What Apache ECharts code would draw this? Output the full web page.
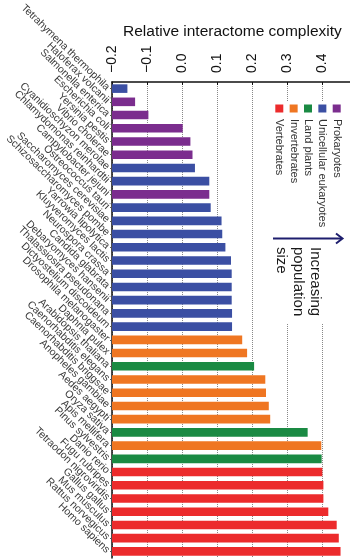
<!DOCTYPE html>
<html>
<head>
<meta charset="utf-8">
<script src="https://cdn.jsdelivr.net/npm/echarts@6/dist/echarts.min.js"></script>
<style>
  html, body { margin: 0; padding: 0; background: #fff; }
  #chart { width: 350px; height: 560px; }
</style>
</head>
<body>
<div id="chart"></div>
<script>
// species, top to bottom
var species = [
  'Tetrahymena thermophila', 'Haloferax volcanii', 'Salmonella enterica', 'Escherichia coli',
  'Yersinia pestis', 'Vibrio cholerae', 'Cyanidioschyzon merolae', 'Chlamydomonas reinhardtii',
  'Campylobacter jejuni', 'Ostreococcus tauri', 'Saccharomyces cerevisiae', 'Schizosaccharomyces pombe',
  'Yarrowia lipolytica', 'Kluyveromyces lactis', 'Neurospora crassa', 'Candida glabrata',
  'Debaryomyces hansenii', 'Thalassiosira pseudonana', 'Dictyostelium discoideum', 'Drosophila melanogaster',
  'Daphnia pulex', 'Arabidopsis thaliana', 'Caenorhabditis elegans', 'Caenorhabditis briggsae',
  'Anopheles gambiae', 'Aedes aegypti', 'Oryza sativa', 'Apis mellifera',
  'Pinus sylvestris', 'Danio rerio', 'Fugu rubripes', 'Tetraodon nigroviridis',
  'Gallus gallus', 'Mus musculus', 'Rattus norvegicus', 'Homo sapiens'
];
var complexity = [
  -0.156, -0.134, -0.096, 0.002, 0.024, 0.030, 0.037, 0.078, 0.078, 0.082,
  0.113, 0.115, 0.124, 0.140, 0.142, 0.142, 0.142, 0.143, 0.143, 0.172,
  0.186, 0.206, 0.238, 0.240, 0.248, 0.252, 0.359, 0.398, 0.399, 0.401,
  0.404, 0.404, 0.418, 0.442, 0.448, 0.453
];
// group of each species: P prokaryote, U unicellular euk, L land plant, I invertebrate, V vertebrate
var groupOf = [
  'U', 'P', 'P', 'P', 'P', 'P', 'U', 'U', 'P', 'U',
  'U', 'U', 'U', 'U', 'U', 'U', 'U', 'U', 'U', 'I',
  'I', 'L', 'I', 'I', 'I', 'I', 'L', 'I', 'L', 'V',
  'V', 'V', 'V', 'V', 'V', 'V'
];
var groupKeys = ['P', 'U', 'L', 'I', 'V'];
var groupNames = ['Prokaryotes', 'Unicellular eukaryotes', 'Land plants', 'Invertebrates', 'Vertebrates'];
var groupColors = { P: '#7b2d8e', U: '#3b4fa3', L: '#1a8a43', I: '#ef7622', V: '#ec2b2c' };
var xTicks = [-0.2, -0.1, 0.0, 0.1, 0.2, 0.3, 0.4];
var BASE = xTicks[0]; // bars grow from the left end of the axis

var FONT = '"Liberation Sans", Arial, sans-serif';
var chart = echarts.init(document.getElementById('chart'));

var barData = complexity.map(function (v, i) {
  return { value: v - BASE, itemStyle: { color: groupColors[groupOf[i]] } };
});

var graphics = [
  // white panel behind legend / annotation
  { type: 'rect', z: 1, shape: { x: 271, y: 102, width: 79, height: 222 }, style: { fill: '#fff' } }
];
groupKeys.forEach(function (k, i) {
  var cx = 336.7 - i * 14.35;
  graphics.push({ type: 'rect', z: 3, shape: { x: cx - 4, y: 104.5, width: 8, height: 8 }, style: { fill: groupColors[k] } });
  graphics.push({
    type: 'text', z: 3, x: cx, y: 119, rotation: -Math.PI / 2,
    style: { text: groupNames[i], x: 0, y: 0, align: 'left', verticalAlign: 'middle', font: '11px ' + FONT, fill: '#333' }
  });
});
graphics.push({ type: 'line', z: 3, shape: { x1: 273, y1: 238.5, x2: 342, y2: 238.5 }, style: { stroke: '#1e1e6e', lineWidth: 2 } });
graphics.push({ type: 'polyline', z: 3, shape: { points: [[336, 233.5], [342.5, 238.5], [336, 243.5]] }, style: { stroke: '#1e1e6e', lineWidth: 2, fill: null } });
graphics.push({
  type: 'text', z: 3, x: 324, y: 247, rotation: -Math.PI / 2,
  style: { text: 'Increasing\npopulation\nsize', x: 0, y: 0, align: 'left', verticalAlign: 'top', font: '15px ' + FONT, lineHeight: 17, fill: '#1a1a1a' }
});

chart.setOption({
  animation: false,
  backgroundColor: '#fff',
  title: {
    text: 'Relative interactome complexity',
    left: 118, top: 19,
    textStyle: { fontSize: 15.5, fontWeight: 'normal', color: '#111', fontFamily: FONT }
  },
  grid: { left: 112, right: 0, top: 82, bottom: 2 },
  xAxis: {
    type: 'value',
    position: 'top',
    min: 0,
    max: 0.68,
    interval: 0.1,
    axisLine: { show: true, lineStyle: { color: '#111', width: 1.5 } },
    axisTick: { show: true, inside: true, length: 3, lineStyle: { color: '#111' } },
    splitLine: { show: true, lineStyle: { color: '#888', type: 'dotted', width: 1 } },
    axisLabel: {
      rotate: -90,
      margin: 9,
      showMaxLabel: false,
      fontSize: 14,
      color: '#111',
      fontFamily: FONT,
      formatter: function (v) {
        var t = Math.round((v + BASE) * 10);
        if (Math.abs(v * 10 - Math.round(v * 10)) > 1e-6) return '';
        return (t / 10).toFixed(1).replace('-', '\u2212');
      }
    }
  },
  yAxis: {
    type: 'category',
    inverse: true,
    data: species,
    axisLine: { show: true, lineStyle: { color: '#111', width: 1.5 } },
    axisTick: { show: true, length: 2, alignWithLabel: true, lineStyle: { color: '#555' } },
    axisLabel: { rotate: -44, margin: 4, fontSize: 10.5, color: '#3a3a3a', fontFamily: FONT, interval: 0 }
  },
  series: [{
    type: 'bar',
    data: barData,
    barCategoryGap: '35%'
  }],
  graphic: { elements: graphics }
});
</script>
</body>
</html>
